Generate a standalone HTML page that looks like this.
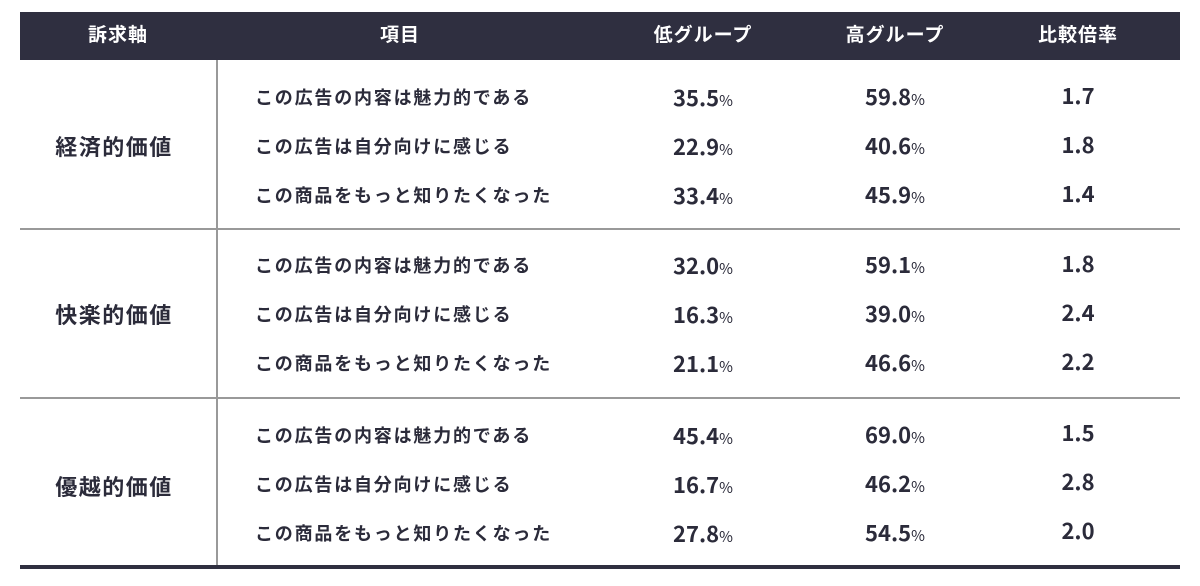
<!DOCTYPE html>
<html><head><meta charset="utf-8"><style>
body{margin:0;width:1200px;height:586px;background:#fff;position:relative;overflow:hidden;font-family:"Liberation Sans","Noto Sans CJK JP",sans-serif;color:#2b2b3a}
.hd{position:absolute;left:20px;top:12px;width:1160px;height:48px;background:#2f2f40}
.h{position:absolute;top:12px;height:48px;line-height:48px;color:#fff;font-weight:bold;font-size:19px;letter-spacing:1px;transform:translateX(-50%);white-space:nowrap}
.t{position:absolute;white-space:nowrap;transform:translate(-50%,-50%)}
.it{position:absolute;white-space:nowrap;font-size:18px;font-weight:bold;transform:translateY(-50%);left:255px;letter-spacing:1.8px}
.g{font-size:22px;font-weight:bold;font-family:"Noto Sans CJK JP","Liberation Sans",sans-serif}
.g small{font-size:15px;font-weight:normal}
.cat{font-size:22px;font-weight:bold;letter-spacing:1.5px}
.line{position:absolute;background:#999}
</style></head><body>
<div class="hd"></div>
<div class="h" style="left:118px">訴求軸</div>
<div class="h" style="left:400px">項目</div>
<div class="h" style="left:703px">低グループ</div>
<div class="h" style="left:895px">高グループ</div>
<div class="h" style="left:1078px">比較倍率</div>
<div class="line" style="left:216px;top:60px;width:2px;height:506px"></div>
<div class="line" style="left:20px;top:228px;width:1160px;height:2px"></div>
<div class="line" style="left:20px;top:397px;width:1160px;height:2px"></div>
<div style="position:absolute;left:20px;top:565px;width:1160px;height:4px;background:#2f2f40"></div>
<div class="t cat" style="left:114px;top:146px">経済的価値</div>
<div class="t cat" style="left:114px;top:314px">快楽的価値</div>
<div class="t cat" style="left:114px;top:486px">優越的価値</div>

<div class="it" style="top:97px">この広告の内容は魅力的である</div>
<div class="it" style="top:146px">この広告は自分向けに感じる</div>
<div class="it" style="top:195px">この商品をもっと知りたくなった</div>
<div class="it" style="top:265px">この広告の内容は魅力的である</div>
<div class="it" style="top:314px">この広告は自分向けに感じる</div>
<div class="it" style="top:363px">この商品をもっと知りたくなった</div>
<div class="it" style="top:435px">この広告の内容は魅力的である</div>
<div class="it" style="top:484px">この広告は自分向けに感じる</div>
<div class="it" style="top:533px">この商品をもっと知りたくなった</div>

<div class="t g" style="left:703px;top:97px">35.5<small>%</small></div>
<div class="t g" style="left:703px;top:146px">22.9<small>%</small></div>
<div class="t g" style="left:703px;top:195px">33.4<small>%</small></div>
<div class="t g" style="left:703px;top:265px">32.0<small>%</small></div>
<div class="t g" style="left:703px;top:314px">16.3<small>%</small></div>
<div class="t g" style="left:703px;top:363px">21.1<small>%</small></div>
<div class="t g" style="left:703px;top:435px">45.4<small>%</small></div>
<div class="t g" style="left:703px;top:484px">16.7<small>%</small></div>
<div class="t g" style="left:703px;top:533px">27.8<small>%</small></div>

<div class="t g" style="left:895px;top:96px">59.8<small>%</small></div>
<div class="t g" style="left:895px;top:145px">40.6<small>%</small></div>
<div class="t g" style="left:895px;top:194px">45.9<small>%</small></div>
<div class="t g" style="left:895px;top:264px">59.1<small>%</small></div>
<div class="t g" style="left:895px;top:313px">39.0<small>%</small></div>
<div class="t g" style="left:895px;top:362px">46.6<small>%</small></div>
<div class="t g" style="left:895px;top:434px">69.0<small>%</small></div>
<div class="t g" style="left:895px;top:483px">46.2<small>%</small></div>
<div class="t g" style="left:895px;top:532px">54.5<small>%</small></div>

<div class="t g" style="left:1078px;top:95px">1.7</div>
<div class="t g" style="left:1078px;top:144px">1.8</div>
<div class="t g" style="left:1078px;top:193px">1.4</div>
<div class="t g" style="left:1078px;top:263px">1.8</div>
<div class="t g" style="left:1078px;top:312px">2.4</div>
<div class="t g" style="left:1078px;top:361px">2.2</div>
<div class="t g" style="left:1078px;top:432px">1.5</div>
<div class="t g" style="left:1078px;top:481px">2.8</div>
<div class="t g" style="left:1078px;top:530px">2.0</div>
</body></html>
